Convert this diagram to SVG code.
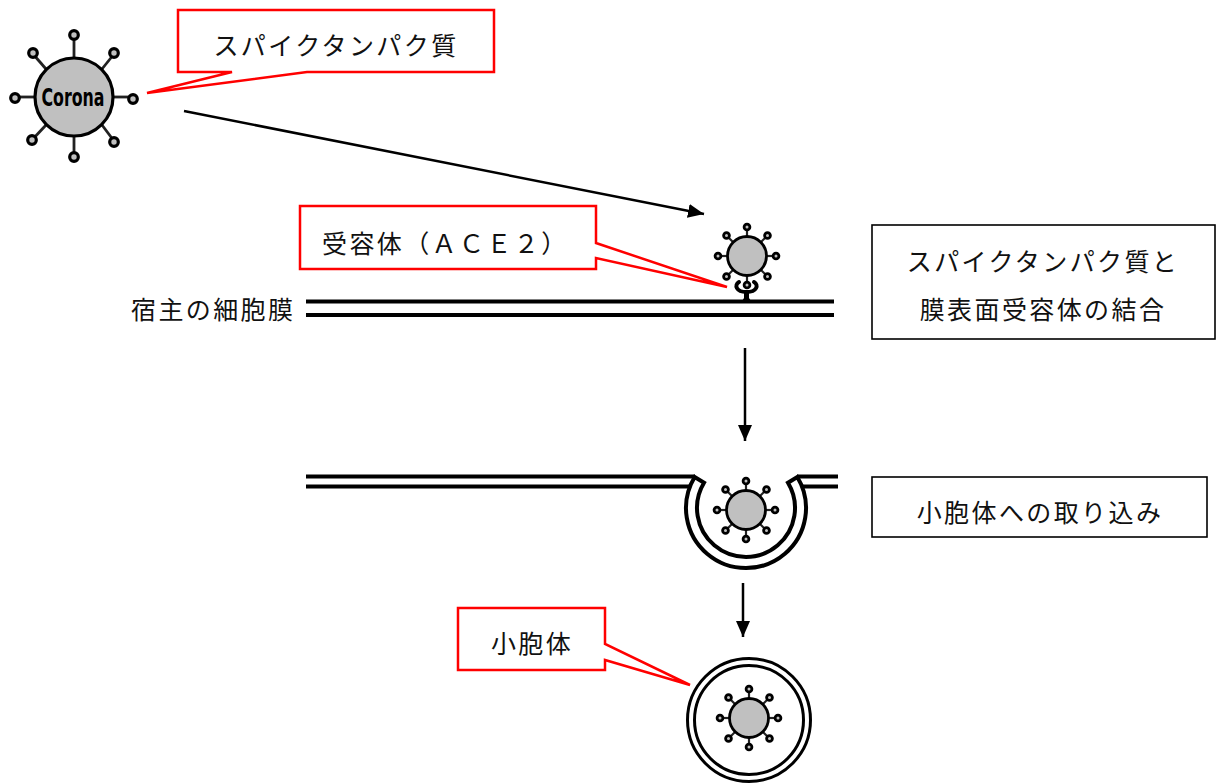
<svg xmlns="http://www.w3.org/2000/svg" xmlns:xlink="http://www.w3.org/1999/xlink" width="1222" height="783" viewBox="0 0 1222 783">
  <style>
    .jp { font-family: "Noto Sans CJK JP", "Noto Sans", sans-serif; font-size: 25px; letter-spacing: 2.4px; fill: #111; }
    .callout { fill: #fff; stroke: #ff0000; stroke-width: 2.5; stroke-linejoin: miter; }
    .box { fill: #fff; stroke: #000; stroke-width: 1.6; }
    .arrow { stroke: #000; stroke-width: 2.5; fill: none; }
    .mem { stroke: #000; stroke-width: 4; fill: none; }
    .body { fill: #c0c0c0; stroke: #000; }
    .spike { stroke: #222; }
    .knob { fill: #c0c0c0; stroke: #000; }
  </style>
  <defs>
    <marker id="head" markerUnits="userSpaceOnUse" markerWidth="18" markerHeight="16" refX="16" refY="7" orient="auto" viewBox="0 0 18 16">
      <path d="M0,0 L16,7 L0,14 Z" fill="#000"/>
    </marker>
    <!-- small virus particle, centred on the origin -->
    <g id="virus-small">
      <g class="spike" stroke-width="2.2">
        <line x1="0" y1="-20" x2="0" y2="-29"/>
        <line x1="0" y1="20" x2="0" y2="29"/>
        <line x1="-20" y1="0" x2="-29" y2="0"/>
        <line x1="20" y1="0" x2="29" y2="0"/>
        <line x1="14" y1="-14" x2="20.5" y2="-20.5"/>
        <line x1="-14" y1="-14" x2="-20.5" y2="-20.5"/>
        <line x1="14" y1="14" x2="20.5" y2="20.5"/>
        <line x1="-14" y1="14" x2="-20.5" y2="20.5"/>
      </g>
      <circle class="body" r="19.5" stroke-width="2.8"/>
      <g class="knob" stroke-width="2.8">
        <circle cx="0" cy="-29" r="2.9"/>
        <circle cx="0" cy="29" r="2.9"/>
        <circle cx="-29" cy="0" r="2.9"/>
        <circle cx="29" cy="0" r="2.9"/>
        <circle cx="20.5" cy="-20.5" r="2.9"/>
        <circle cx="-20.5" cy="-20.5" r="2.9"/>
        <circle cx="20.5" cy="20.5" r="2.9"/>
        <circle cx="-20.5" cy="20.5" r="2.9"/>
      </g>
    </g>
  </defs>

  <rect width="1222" height="783" fill="#fff"/>

  <!-- connectors -->
  <g id="connectors">
    <line class="arrow" x1="184" y1="111" x2="704" y2="214" marker-end="url(#head)"/>
    <line class="arrow" x1="745" y1="348" x2="745" y2="441" marker-end="url(#head)"/>
    <line class="arrow" x1="743" y1="583" x2="743" y2="637" marker-end="url(#head)"/>
  </g>

  <!-- free virus -->
  <g id="corona">
    <g class="spike" stroke-width="2.8">
      <line x1="74" y1="58" x2="74" y2="36"/>
      <line x1="74" y1="136" x2="74" y2="157"/>
      <line x1="35" y1="97" x2="15" y2="97"/>
      <line x1="113" y1="97" x2="133" y2="97"/>
      <line x1="46" y1="69" x2="33" y2="54"/>
      <line x1="102" y1="69" x2="114" y2="54"/>
      <line x1="46" y1="125" x2="32" y2="140"/>
      <line x1="102" y1="125" x2="114" y2="141"/>
    </g>
    <circle class="body" cx="74" cy="97" r="39" stroke-width="3.2"/>
    <g class="knob" stroke-width="3.2">
      <circle cx="74" cy="35" r="4.3"/>
      <circle cx="74" cy="157" r="4.3"/>
      <circle cx="15" cy="98" r="4.3"/>
      <circle cx="133" cy="99" r="4.3"/>
      <circle cx="33" cy="53" r="4.3"/>
      <circle cx="114" cy="53" r="4.3"/>
      <circle cx="32" cy="140" r="4.3"/>
      <circle cx="114" cy="142" r="4.3"/>
    </g>
    <text x="73" y="106" text-anchor="middle" font-family="'DejaVu Sans', sans-serif" font-weight="bold" font-size="24" textLength="63" lengthAdjust="spacingAndGlyphs" fill="#000">Corona</text>
  </g>

  <!-- callout: spike protein -->
  <g id="label-spike">
    <path class="callout" d="M178,10 H494 V72 H307 L147,93 L232,72 H178 Z"/>
    <text class="jp" x="336" y="54.5" text-anchor="middle">スパイクタンパク質</text>
  </g>

  <!-- callout: receptor -->
  <g id="label-receptor">
    <path class="callout" d="M300,206 H596 V243 L727,287 L596,258 V269 H300 Z"/>
    <text class="jp" x="322" y="252.5">受容体（ＡＣＥ２）</text>
  </g>

  <!-- host membrane with bound virus -->
  <g id="membrane-top">
    <text class="jp" x="131" y="319">宿主の細胞膜</text>
    <line class="mem" x1="306" y1="301.5" x2="834" y2="301.5" stroke-width="3.5"/>
    <line class="mem" x1="306" y1="315" x2="834" y2="315" stroke-width="3.5"/>
    <!-- receptor cup and stem -->
    <path d="M739,282 C734,285 736,292 746.5,292 C757,292 759,285 754,282" fill="none" stroke="#000" stroke-width="4" stroke-linecap="round"/>
    <path d="M744,292 H749 V298 L751,301 H742 L744,298 Z" fill="#000"/>
    <use xlink:href="#virus-small" x="747" y="256"/>
  </g>

  <!-- step box 1 -->
  <g id="step-binding">
    <rect class="box" x="872" y="225" width="343" height="114"/>
    <text class="jp" x="1043" y="271" text-anchor="middle">スパイクタンパク質と</text>
    <text class="jp" x="1043" y="319" text-anchor="middle">膜表面受容体の結合</text>
  </g>

  <!-- invaginating membrane -->
  <g id="membrane-mid">
    <line class="mem" x1="306" y1="476.5" x2="695" y2="476.5"/>
    <line class="mem" x1="306" y1="486.5" x2="700" y2="486.5"/>
    <line class="mem" x1="797" y1="476.5" x2="838" y2="476.5"/>
    <line class="mem" x1="792" y1="486.5" x2="838" y2="486.5"/>
    <path d="M694.7,477 A60,60 0 1 0 797.3,477 L788,482.7 A49,49 0 1 1 704,482.7 Z" fill="#fff" stroke="#000" stroke-width="4" stroke-linejoin="miter"/>
    <use xlink:href="#virus-small" x="746" y="510"/>
  </g>

  <!-- step box 2 -->
  <g id="step-uptake">
    <rect class="box" x="872" y="477" width="335" height="60"/>
    <text class="jp" x="1040" y="522" text-anchor="middle">小胞体への取り込み</text>
  </g>

  <!-- vesicle -->
  <g id="vesicle">
    <circle cx="749" cy="720" r="61.5" fill="none" stroke="#000" stroke-width="3"/>
    <circle cx="749" cy="720" r="54.5" fill="none" stroke="#000" stroke-width="3"/>
    <use xlink:href="#virus-small" x="749" y="718"/>
  </g>

  <!-- callout: vesicle -->
  <g id="label-vesicle">
    <path class="callout" d="M458,608 H605 V644 L690,685 L605,660 V670 H458 Z"/>
    <text class="jp" x="532" y="653" text-anchor="middle">小胞体</text>
  </g>
</svg>
